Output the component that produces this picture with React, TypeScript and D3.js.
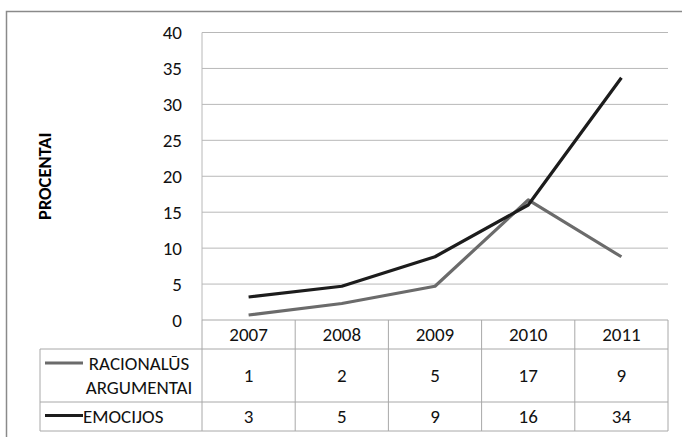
import React from "react";
import * as d3 from "d3";

const years = ["2007", "2008", "2009", "2010", "2011"];
const racionalus = [0.7, 2.3, 4.7, 16.7, 8.8];
const emocijos = [3.2, 4.7, 8.8, 16.0, 33.7];
const yTicks = [0, 5, 10, 15, 20, 25, 30, 35, 40];

const FONT = "Carlito, 'Liberation Sans Narrow', 'DejaVu Sans Condensed', Arial, sans-serif";

export default function App() {
  const W = 682, H = 437;
  const left = 202, right = 668, top = 32.5, bottom = 320;
  const tableLeft = 40;
  const rowY = [320, 349, 402, 431];
  const fs = 19;

  const x = d3.scaleBand<string>().domain(years).range([left, right]);
  const y = d3.scaleLinear().domain([0, 40]).range([bottom, top]);
  const line = d3.line<number>().x((_, i) => (x(years[i]) as number) + x.bandwidth() / 2).y((d) => y(d));

  const series = [
    { name: ["RACIONALŪS", "ARGUMENTAI"], values: racionalus, color: "#6b6b6b" },
    { name: ["EMOCIJOS"], values: emocijos, color: "#1c1c1c" },
  ];
  const gridColor = "#b8b8b8";
  const tableColor = "#a8a8a8";

  return (
    <svg width={W} height={H} style={{ position: "absolute", left: 0, top: 0 }} fontFamily={FONT}>
      <rect x={0} y={0} width={W} height={H} fill="#fff" />
      <rect x={6.5} y={11.5} width={W + 10} height={H + 10} fill="none" stroke="#8a8a8a" strokeWidth={1.5} />
      {yTicks.map((t) => (
        <g key={t}>
          {t > 0 && <line x1={left} x2={right} y1={y(t)} y2={y(t)} stroke={gridColor} strokeWidth={1} />}
          <text x={182} y={y(t) + 6.5} textAnchor="end" fontSize={fs} fill="#111">{t}</text>
        </g>
      ))}
      <line x1={left} x2={left} y1={top} y2={bottom} stroke={gridColor} strokeWidth={1} />
      <text transform={`translate(51,${(top + bottom) / 2}) rotate(-90)`} textAnchor="middle" fontSize={18.5} fontWeight="bold" fill="#000">PROCENTAI</text>

      {/* table */}
      <line x1={left} x2={right} y1={rowY[0]} y2={rowY[0]} stroke={tableColor} />
      {rowY.slice(1).map((ry) => (
        <line key={ry} x1={tableLeft} x2={right} y1={ry} y2={ry} stroke={tableColor} />
      ))}
      <line x1={tableLeft} x2={tableLeft} y1={rowY[1]} y2={rowY[3]} stroke={tableColor} />
      {years.map((yr) => (
        <line key={yr} x1={x(yr) as number} x2={x(yr) as number} y1={rowY[0]} y2={rowY[3]} stroke={tableColor} />
      ))}
      <line x1={right} x2={right} y1={rowY[0]} y2={rowY[3]} stroke={tableColor} />
      {years.map((yr) => (
        <text key={yr} x={(x(yr) as number) + x.bandwidth() / 2} y={(rowY[0] + rowY[1]) / 2 + 6.5} textAnchor="middle" fontSize={fs} fill="#111">{yr}</text>
      ))}
      {series.map((s, si) => {
        const cy = (rowY[si + 1] + rowY[si + 2]) / 2;
        return (
          <g key={si}>
            <line x1={45} x2={83} y1={si === 0 ? cy - 12.5 : cy - 1} y2={si === 0 ? cy - 12.5 : cy - 1} stroke={s.color} strokeWidth={3} />
            {s.name.length === 2 ? (
              <>
                <text x={139} y={cy - 6} textAnchor="middle" fontSize={fs} fill="#111">{s.name[0]}</text>
                <text x={139} y={cy + 18} textAnchor="middle" fontSize={fs} fill="#111">{s.name[1]}</text>
              </>
            ) : (
              <text x={83} y={cy + 6.5} fontSize={fs} fill="#111">{s.name[0]}</text>
            )}
            {s.values.map((v, i) => (
              <text key={i} x={(x(years[i]) as number) + x.bandwidth() / 2} y={cy + 6.5} textAnchor="middle" fontSize={fs} fill="#111">{Math.round(v)}</text>
            ))}
          </g>
        );
      })}

      {series.map((s, si) => (
        <path key={si} d={line(s.values) as string} fill="none" stroke={s.color} strokeWidth={3.2} strokeLinejoin="round" />
      ))}
    </svg>
  );
}
